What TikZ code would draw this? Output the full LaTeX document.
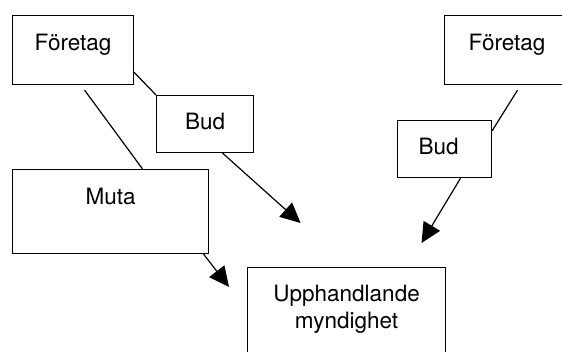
\documentclass[tikz,border=0pt]{standalone}
\usepackage{fontspec}
\setmainfont{TeX Gyre Heros}
\usepackage{tikz}
\usetikzlibrary{arrows.meta}
\usetikzlibrary{calc}
\tikzset{ruta/.style={draw, line width=1.1pt, inner sep=0pt, align=center, anchor=north west},
pil/.style={-{Triangle[length=20pt,width=19pt]}}}

\begin{document}
\begin{tikzpicture}[x=1pt,y=-1pt,line width=1.2pt,font=\fontsize{22.5}{27}\selectfont] %pixel units
\clip (0,0) rectangle (562,351);
\node[ruta, minimum width=121, text height=35pt, text depth=34pt] (f1) at (12,15) {Företag};
\node[ruta, minimum width=97, text height=34pt, text depth=23pt] (b1) at (156,95) {Bud};
\node[ruta, minimum width=196, text height=35pt, text depth=49pt] (m) at (12,169) {Muta};
\node[ruta, minimum width=198, text height=61pt, text depth=40pt] (u) at (247,267) {Upphandlande\\myndighet};
\node[ruta, minimum width=125, text height=35pt, text depth=34pt] (f2) at (444,15) {Företag};
\node[ruta, align=left, text width=52pt, inner xsep=21pt, text height=34pt, text depth=23pt] (b2) at (397,120) {Bud};
\draw (f1.-20) -- (b1.north west);
\draw ([xshift=11.5pt,yshift=-5pt]f1.south) -- ([xshift=32pt]m.north);
\draw[pil] ([xshift=17.5pt]b1.south) -- ([xshift=-46pt,yshift=44pt]u.north);
\draw[pil] ([xshift=93pt]m.south) -- ([xshift=-18pt,yshift=-20pt]u.north west);
\draw ([xshift=10.5pt,yshift=-5pt]f2.south) -- (b2.21);
\draw[pil] ([xshift=16pt]b2.south) -- ([xshift=75pt,yshift=24pt]u.north);
\end{tikzpicture}
\end{document}
